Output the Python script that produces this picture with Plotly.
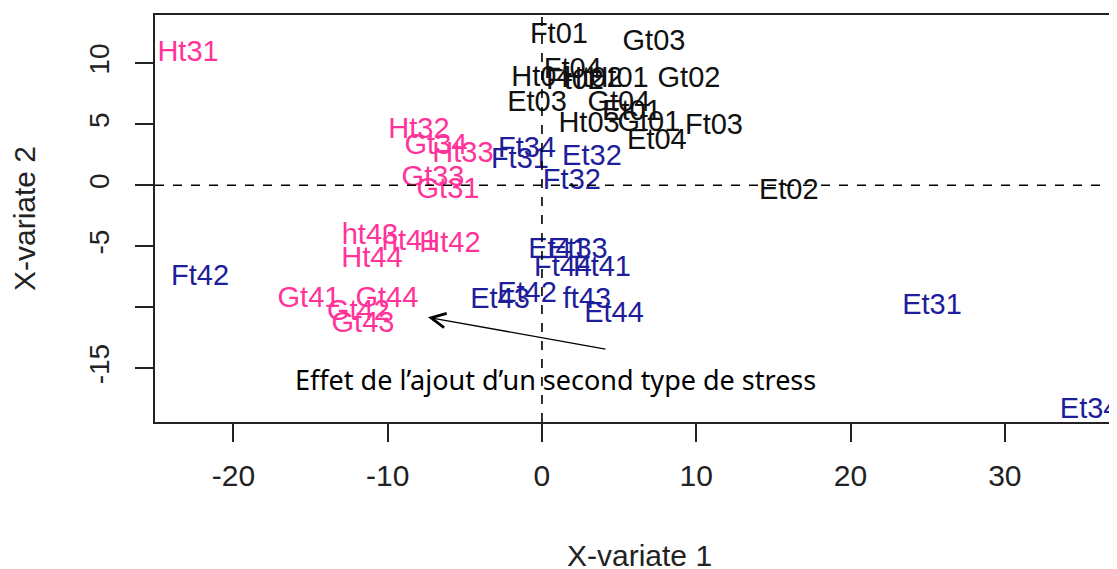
import plotly.graph_objects as go

# Group 0x (black)
g0_labels = ["Ft01", "Gt03", "Gt02", "Et03", "Ht04", "Ft04", "Ft02", "Ht02", "Ht01",
             "Gt04", "Et01", "Ht03", "Gt01", "Ft03", "Et04", "Et02"]
g0_x = [1.10, 7.26, 9.53, -0.32, 0.0, 2.0, 2.14, 3.24, 4.93,
        4.99, 5.83, 3.05, 6.93, 11.15, 7.45, 16.0]
g0_y = [12.29, 11.72, 8.68, 6.72, 8.75, 9.35, 8.52, 8.68, 8.68,
        6.72, 5.98, 5.0, 5.08, 4.83, 3.6, -0.5]

# Pink group (H/G, stress 3x and 4x)
pk_labels = ["Ht31", "Ht32", "Gt34", "Ht33", "Gt33", "Gt31",
             "ht43", "ht41", "Ht42", "Ht44", "Gt41", "Gt44", "Gt42", "Gt43"]
pk_x = [-22.94, -7.97, -6.87, -5.12, -7.06, -6.09,
        -11.15, -8.55, -5.96, -11.02, -15.1, -10.05, -11.9, -11.6]
pk_y = [10.82, 4.5, 3.19, 2.54, 0.57, -0.41,
        -4.25, -4.67, -4.85, -6.07, -9.35, -9.35, -10.45, -11.4]

# Blue group (F/E, stress 3x and 4x)
bl_labels = ["Ft34", "Ft31", "Et32", "Ft32", "Et31", "Et34",
             "Ft42", "Et41", "Et33", "Ft44", "Ft41", "Et43", "Et42", "ft43", "Et44"]
bl_x = [-0.97, -1.43, 3.24, 1.94, 25.28, 35.5,
        -22.16, 1.04, 2.33, 1.36, 3.89, -2.72, -0.97, 2.92, 4.67]
bl_y = [2.95, 2.05, 2.29, 0.32, -9.92, -18.45,
        -7.55, -5.33, -5.33, -6.81, -6.81, -9.43, -8.94, -9.43, -10.58]

x_ticks = [-20, -10, 0, 10, 20, 30]
x_ticktext = ["-20", "-10", "0", "10", "20", "30"]
y_ticks = [10, 5, 0, -5, -10, -15]
y_ticktext = ["10", "5", "0", "-5", "", "-15"]

BLACK = "#111111"
PINK = "#FF3399"
BLUE = "#1E1E9A"
FONT = "Liberation Sans, Arial, sans-serif"

fig = go.Figure()
for labs, xs, ys, col in [(g0_labels, g0_x, g0_y, BLACK),
                          (pk_labels, pk_x, pk_y, PINK),
                          (bl_labels, bl_x, bl_y, BLUE)]:
    fig.add_trace(go.Scatter(
        x=xs, y=ys, text=labs, mode="text", textposition="middle center",
        textfont=dict(family=FONT, size=29, color=col),
        showlegend=False, cliponaxis=False, hoverinfo="text"))

# reference dashed lines at 0
fig.add_shape(type="line", xref="paper", yref="y", x0=0, x1=1, y0=0, y1=0,
              line=dict(color="black", width=1.6, dash="dash"))
fig.add_shape(type="line", xref="x", yref="paper", x0=0, x1=0, y0=0, y1=1,
              line=dict(color="black", width=1.6, dash="dash"))

# arrow annotation
fig.add_annotation(x=-7.39, y=-10.82, ax=4.21, ay=-13.44, xref="x", yref="y",
                   axref="x", ayref="y", text="", showarrow=True,
                   arrowhead=5, arrowsize=2.2, arrowwidth=1.3, arrowcolor="black")
fig.add_annotation(x=-16.15, y=-15.9, xref="x", yref="y", xanchor="left", yanchor="middle",
                   text="Effet de l\u2019ajout d\u2019un second type de stress",
                   showarrow=False,
                   font=dict(family="Noto Sans, Open Sans, sans-serif", size=27, color="black"))

# axis titles
fig.add_annotation(x=0.504, y=-0.327, xref="paper", yref="paper", text="X-variate 1",
                   showarrow=False, xanchor="center", yanchor="middle",
                   font=dict(family=FONT, size=30, color="#222"))
fig.add_annotation(x=-0.135, y=0.499, xref="paper", yref="paper", text="X-variate 2",
                   showarrow=False, xanchor="center", yanchor="middle", textangle=-90,
                   font=dict(family=FONT, size=30, color="#222"))

fig.update_layout(
    width=1109, height=561,
    margin=dict(l=147, r=0, t=7, b=147, autoexpand=False),
    paper_bgcolor="white", plot_bgcolor="white",
    font=dict(family=FONT, color="#222222"),
    xaxis=dict(range=[-25.08, 37.27], tickvals=x_ticks, ticktext=x_ticktext,
               ticks="outside", ticklen=18,
               tickwidth=2, tickcolor="#222", showgrid=False, zeroline=False,
               showline=True, linecolor="#222", linewidth=2, mirror=True,
               automargin=False, ticklabelstandoff=8,
               tickfont=dict(size=30, color="#222")),
    yaxis=dict(range=[-19.4, 13.96], tickvals=y_ticks, ticktext=y_ticktext,
               ticks="outside", ticklen=18, tickwidth=2, tickcolor="#222",
               showgrid=False, zeroline=False, showline=True, linecolor="#222",
               linewidth=2, mirror=False, tickangle=-90, automargin=False,
               ticklabelstandoff=15,
               tickfont=dict(size=28, color="#222")),
)

fig.write_html("out.html")
